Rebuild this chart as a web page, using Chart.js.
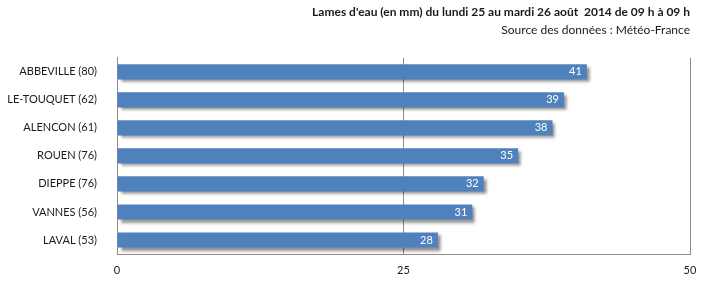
<!DOCTYPE html>
<html>
<head>
<meta charset="utf-8">
<script src="https://cdn.jsdelivr.net/npm/chart.js@4"></script>
<style>
  html, body { margin: 0; padding: 0; background: #fff; }
  #wrap { width: 713px; height: 287px; }
</style>
</head>
<body>
<div id="wrap"><canvas id="lames"></canvas></div>
<script>
var stations = ["ABBEVILLE (80)", "LE-TOUQUET (62)", "ALENCON (61)", "ROUEN (76)", "DIEPPE (76)", "VANNES (56)", "LAVAL (53)"];
var lames = [41, 39, 38, 35, 32, 31, 28];
var xTicks = [0, 25, 50];

var fontName = "Lato, 'Open Sans', sans-serif";

// ombre portée sous les barres
var shadowPlugin = {
    id: "barShadow",
    beforeDatasetDraw: function (chart) {
        var ctx = chart.ctx;
        ctx.save();
        ctx.shadowColor = "rgba(0,0,0,0.45)";
        ctx.shadowBlur = 3;
        ctx.shadowOffsetX = 3;
        ctx.shadowOffsetY = 3;
    },
    afterDatasetDraw: function (chart) {
        chart.ctx.restore();
    }
};

// valeurs en blanc au bout des barres
var valuePlugin = {
    id: "barValues",
    afterDatasetsDraw: function (chart) {
        var ctx = chart.ctx;
        var meta = chart.getDatasetMeta(0);
        ctx.save();
        ctx.font = "11px " + fontName;
        ctx.fillStyle = "#ffffff";
        ctx.textAlign = "right";
        ctx.textBaseline = "middle";
        meta.data.forEach(function (bar, i) {
            ctx.fillText(lames[i], bar.x - 5, bar.y);
        });
        ctx.restore();
    }
};

var ctx = document.getElementById("lames");

var chart = new Chart(ctx, {
    type: "bar",
    data: {
        labels: stations,
        datasets: [{
            data: lames,
            backgroundColor: "#4f81bd",
            borderWidth: 0,
            barPercentage: 0.54,
            categoryPercentage: 1
        }]
    },
    options: {
        indexAxis: "y",
        responsive: true,
        maintainAspectRatio: false,
        animation: false,
        layout: { padding: { left: 0, right: 23, top: 0, bottom: 0 } },
        plugins: {
            legend: { display: false },
            tooltip: { enabled: false },
            title: {
                display: true,
                text: "Lames d'eau (en mm) du lundi 25 au mardi 26 août  2014 de 09 h à 09 h",
                align: "end",
                color: "#1a1a1a",
                font: { family: fontName, size: 12, weight: "bold" },
                padding: { top: 5, bottom: 4 },
                fullSize: true
            },
            subtitle: {
                display: true,
                text: "Source des données : Météo-France",
                align: "end",
                color: "#1a1a1a",
                font: { family: fontName, size: 12 },
                padding: { top: 0, bottom: 20 }
            }
        },
        scales: {
            x: {
                min: 0,
                max: 50,
                afterBuildTicks: function (scale) {
                    scale.ticks = xTicks.map(function (v) { return { value: v }; });
                },
                afterFit: function (scale) { scale.height = 33; },
                grid: { color: "#8c8c8c", drawTicks: false },
                border: { display: true, color: "#8c8c8c" },
                ticks: {
                    padding: 10,
                    color: "#1a1a1a",
                    font: { family: fontName, size: 11 }
                }
            },
            y: {
                afterFit: function (scale) { scale.width = 117; },
                grid: { display: false },
                border: { display: true, color: "#8c8c8c" },
                ticks: {
                    padding: 12,
                    color: "#1a1a1a",
                    font: { family: fontName, size: 11 }
                }
            }
        }
    },
    plugins: [shadowPlugin, valuePlugin]
});
</script>
</body>
</html>
